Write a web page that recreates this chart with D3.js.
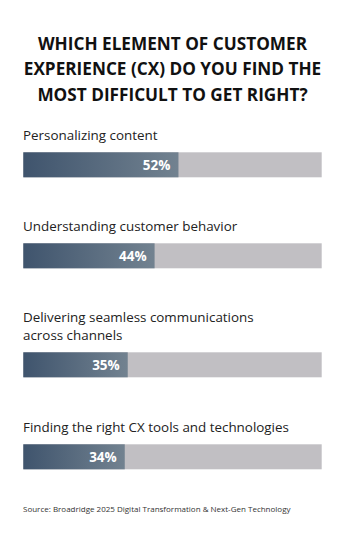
<!DOCTYPE html>
<html><head><meta charset="utf-8">
<script src="https://cdn.jsdelivr.net/npm/d3@7"></script>
<style>html,body{margin:0;padding:0;background:#fff;}svg{display:block;}</style>
</head><body>
<svg id="chart" width="345" height="549"></svg>
<script>
const titleLines = ["WHICH ELEMENT OF CUSTOMER", "EXPERIENCE (CX) DO YOU FIND THE", "MOST DIFFICULT TO GET RIGHT?"];
const categories = [["Personalizing content"], ["Understanding customer behavior"], ["Delivering seamless communications", "across channels"], ["Finding the right CX tools and technologies"]];
const values = [52, 44, 35, 34];
const source = "Source: Broadridge 2025 Digital Transformation & Next-Gen Technology";

const svg = d3.select("#chart");
const font = "'Open Sans', sans-serif";
const defs = svg.append("defs");
const grad = defs.append("linearGradient").attr("id", "g").attr("x1", "0").attr("x2", "1").attr("y1", "0").attr("y2", "0");
grad.append("stop").attr("offset", "0%").attr("stop-color", "#3f546d");
grad.append("stop").attr("offset", "100%").attr("stop-color", "#728290");

svg.append("g").selectAll("text").data(titleLines).join("text")
  .attr("x", 172.5).attr("y", (d, i) => 49.5 + i * 25.5)
  .attr("text-anchor", "middle").attr("font-family", font).attr("font-weight", 700)
  .attr("font-size", 17.2).attr("fill", "#111").text(d => d);

const x = d3.scaleLinear().domain([0, 100]).range([23.3, 321.7]);
const barY = [152.3, 243.3, 352.3, 444.3];
const barH = 25;

const g = svg.append("g");
const rows = g.selectAll("g.row").data(values.map((v, i) => ({v, cat: categories[i], y: barY[i]}))).join("g").attr("class", "row");

rows.append("rect").attr("x", x(0)).attr("y", d => d.y).attr("width", x(100) - x(0)).attr("height", barH).attr("fill", "#c1bfc3");
rows.append("rect").attr("x", x(0)).attr("y", d => d.y).attr("width", d => x(d.v) - x(0)).attr("height", barH).attr("fill", "url(#g)");
rows.append("text").attr("x", d => x(d.v) - 8).attr("y", d => d.y + barH / 2 + 4.8)
  .attr("text-anchor", "end").attr("font-family", font).attr("font-weight", 700).attr("font-size", 13.5)
  .attr("fill", "#fff").text(d => d.v + "%");
rows.each(function(d) {
  const n = d.cat.length;
  d3.select(this).selectAll("text.lab").data(d.cat).join("text").attr("class", "lab")
    .attr("x", 23).attr("y", (t, i) => d.y - 12.5 - (n - 1 - i) * 17.5)
    .attr("font-family", font).attr("font-size", 13.4).attr("fill", "#222").text(t => t);
});

svg.append("text").attr("x", 23).attr("y", 512).attr("font-family", font).attr("font-size", 8)
  .attr("fill", "#333").text(source);
</script>
</body></html>
